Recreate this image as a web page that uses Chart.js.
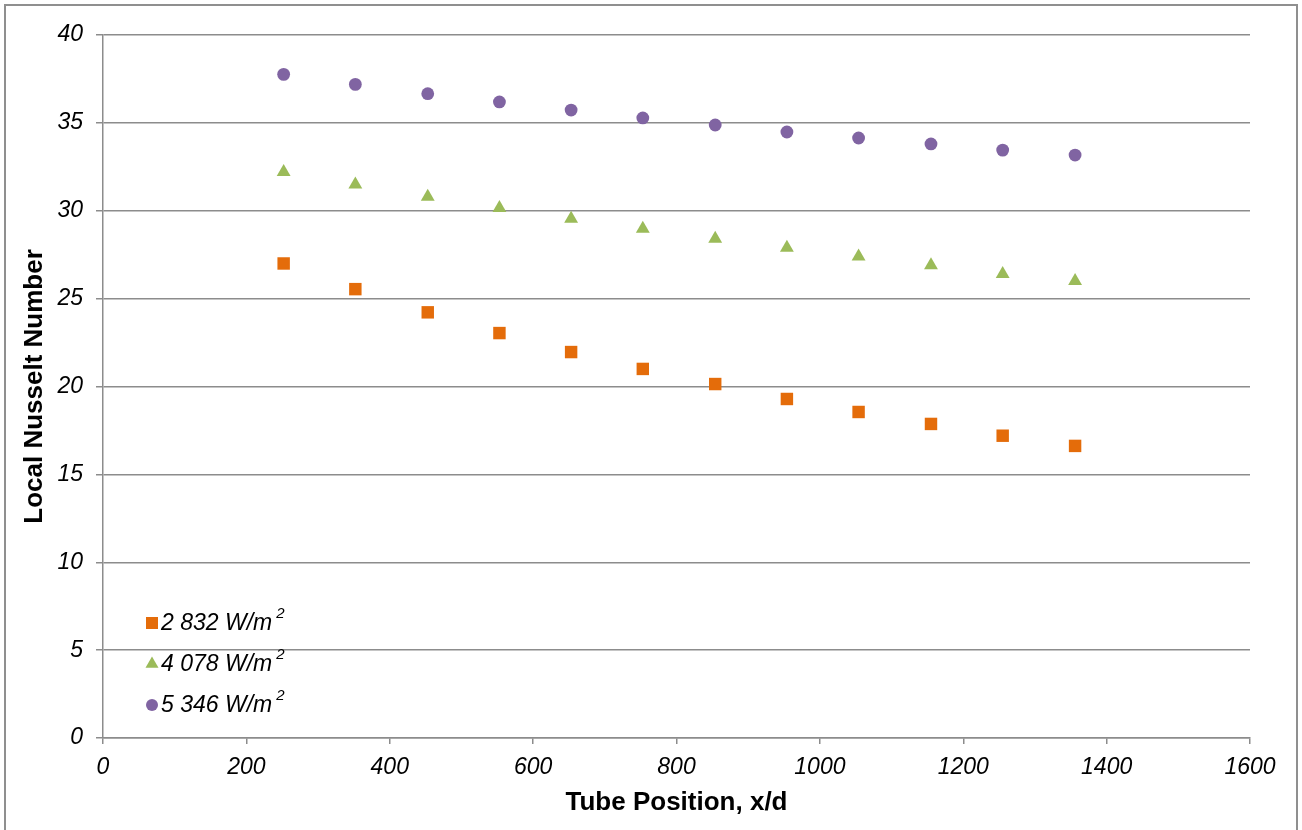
<!DOCTYPE html>
<html>
<head>
<meta charset="utf-8">
<script src="https://cdn.jsdelivr.net/npm/chart.js@4"></script>
<style>
  html, body { margin: 0; padding: 0; background: #fff; }
  #marco { position: absolute; left: 4px; top: 4px; width: 1294px; height: 840px; border: 2px solid #8f8f8f; box-sizing: border-box; }
  #caja { position: absolute; left: 0; top: 0; width: 1302px; height: 830px; }
</style>
</head>
<body>
<div id="marco"></div>
<div id="caja"><canvas id="grafica"></canvas></div>
<script>
// Datos
const posicion = [252, 352, 453, 553, 653, 753, 854, 954, 1054, 1155, 1255, 1356];
const nu2832 = [27.0, 25.54, 24.22, 23.04, 21.96, 21.0, 20.14, 19.29, 18.55, 17.87, 17.2, 16.62];
const nu4078 = [32.2, 31.5, 30.8, 30.15, 29.55, 28.97, 28.4, 27.9, 27.4, 26.9, 26.4, 26.0];
const nu5346 = [37.76, 37.19, 36.66, 36.19, 35.73, 35.28, 34.88, 34.48, 34.14, 33.8, 33.45, 33.17];
const etiquetas = ['2 832 W/m', '4 078 W/m', '5 346 W/m'];

const fuente = "'Liberation Sans', Arial, Helvetica, sans-serif";
const gris = '#8c8c8c';

function puntos(valores) {
  return posicion.map((x, i) => ({ x: x, y: valores[i] }));
}

// Leyenda dentro del área de la gráfica, con el exponente "2"
const leyendaInterna = {
  id: 'leyendaInterna',
  afterDraw(chart) {
    const ctx = chart.ctx;
    const area = chart.chartArea;
    const xMarca = area.left + 49;
    const yInicio = area.bottom - 115;
    ctx.save();
    chart.data.datasets.forEach((ds, i) => {
      const y = yInicio + i * 41;
      ctx.fillStyle = ds.backgroundColor;
      ctx.strokeStyle = ds.backgroundColor;
      Chart.helpers.drawPoint(ctx, {
        pointStyle: ds.pointStyle,
        radius: ds.pointStyle === 'rect' ? 8.5 : (ds.pointStyle === 'triangle' ? 7.5 : 6),
        borderWidth: 0,
        rotation: 0
      }, xMarca, y);
      ctx.fillStyle = '#000';
      ctx.textBaseline = 'middle';
      ctx.textAlign = 'left';
      ctx.font = 'italic 23px ' + fuente;
      ctx.fillText(ds.label, xMarca + 9, y + 1);
      const ancho = ctx.measureText(ds.label).width;
      ctx.font = 'italic 15px ' + fuente;
      ctx.fillText('2', xMarca + 9 + ancho + 4, y - 9);
    });
    ctx.restore();
  }
};

new Chart(document.getElementById('grafica'), {
  type: 'scatter',
  data: {
    datasets: [
      {
        label: etiquetas[0],
        data: puntos(nu2832),
        pointStyle: 'rect',
        pointRadius: 8.8,
        backgroundColor: '#E46C0A',
        borderColor: '#E46C0A',
        borderWidth: 0
      },
      {
        label: etiquetas[1],
        data: puntos(nu4078),
        pointStyle: 'triangle',
        pointRadius: 8,
        backgroundColor: '#9BBB59',
        borderColor: '#9BBB59',
        borderWidth: 0
      },
      {
        label: etiquetas[2],
        data: puntos(nu5346),
        pointStyle: 'circle',
        pointRadius: 6.4,
        backgroundColor: '#8064A2',
        borderColor: '#8064A2',
        borderWidth: 0
      }
    ]
  },
  options: {
    responsive: true,
    maintainAspectRatio: false,
    animation: false,
    layout: { padding: { left: 10, right: 52, top: 35, bottom: 10 } },
    plugins: {
      legend: { display: false },
      tooltip: { enabled: false }
    },
    scales: {
      x: {
        type: 'linear',
        min: 0,
        max: 1600,
        afterFit: (escala) => { escala.height = 82; },
        ticks: {
          stepSize: 200,
          maxRotation: 0,
          padding: 10,
          color: '#000',
          font: { family: fuente, size: 23, style: 'italic' },
          callback: (valor) => String(valor)
        },
        grid: { drawOnChartArea: false, color: gris, lineWidth: 1.5, tickLength: 6 },
        border: { color: gris, width: 1.5 },
        title: {
          display: true,
          text: 'Tube Position, x/d',
          color: '#000',
          font: { family: fuente, size: 26, weight: 'bold' },
          padding: { top: 0, bottom: 2 }
        }
      },
      y: {
        min: 0,
        max: 40,
        afterFit: (escala) => { escala.width = 93; },
        ticks: {
          stepSize: 5,
          padding: 13,
          color: '#000',
          font: { family: fuente, size: 23, style: 'italic' },
          callback: (valor) => String(valor)
        },
        grid: { color: gris, lineWidth: 1.5, tickLength: 7 },
        border: { color: gris, width: 1.5 },
        title: {
          display: true,
          text: 'Local Nusselt Number',
          color: '#000',
          font: { family: fuente, size: 26, weight: 'bold' },
          padding: { top: 9, bottom: 0 }
        }
      }
    }
  },
  plugins: [leyendaInterna]
});
</script>
</body>
</html>
